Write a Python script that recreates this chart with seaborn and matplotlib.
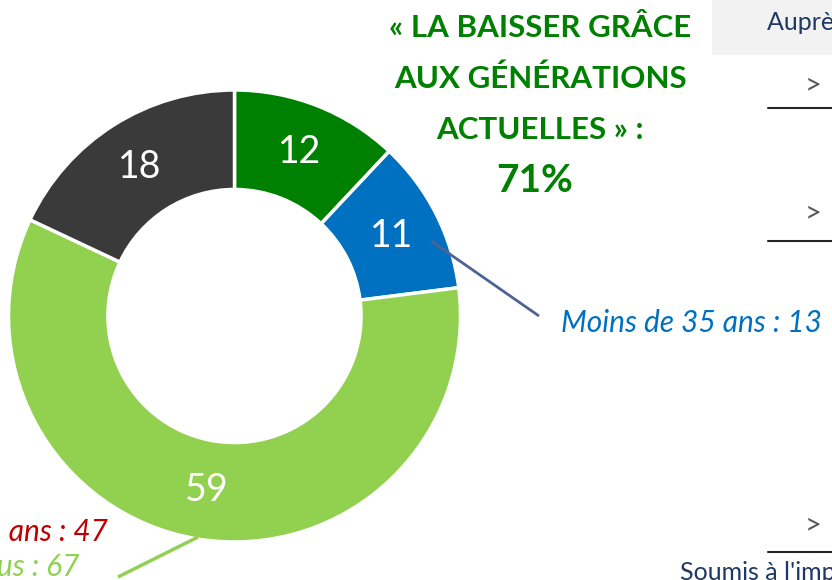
import matplotlib
matplotlib.use("Agg")
import matplotlib.pyplot as plt
import seaborn as sns
import numpy as np

# ---- data ----
categories = ["Baisser grâce aux générations actuelles", "Autre option", "Majorité", "Sans opinion"]
values = [12, 11, 59, 18]
colors = ["#008000", "#0070C0", "#92D050", "#3A3A3A"]
title_lines = ["« LA BAISSER GRÂCE", "AUX GÉNÉRATIONS", "ACTUELLES » :"]
title_value = "71%"
note_blue = "Moins de 35 ans : 13"
note_red = "Moins de 35 ans : 47"
note_green = "65 ans et plus : 67"
header_text = "Auprès de l'ensemble des Français"
footer_text = "Soumis à l'impôt sur le revenu"

sns.set_theme(style="white")
plt.rcParams["font.family"] = ["Lato", "DejaVu Sans"]

W, H = 832, 580
fig = plt.figure(figsize=(W / 100, H / 100), dpi=100)
ax = fig.add_axes([0, 0, 1, 1])

def Y(py):
    return H - py

cx, cy, R = 234.5, Y(316), 226
width_frac = 0.44
wedges, texts = ax.pie(
    values, colors=colors, startangle=90, counterclock=False,
    center=(cx, cy), radius=R, labels=[str(v) for v in values],
    labeldistance=1 - width_frac / 2,
    wedgeprops=dict(width=R * width_frac, edgecolor="white", linewidth=2.5),
    textprops=dict(color="white", fontsize=27, ha="center", va="center"),
    frame=True,
)
ax.set_xlim(0, W)
ax.set_ylim(0, H)
ax.set_aspect("auto")
ax.axis("off")

# title block
gcol = "#008000"
for i, line in enumerate(title_lines):
    ax.text(540, Y(28 + 51 * i), line, color=gcol, fontsize=22.5, fontweight="bold",
            ha="center", va="center")
ax.text(535, Y(180), title_value, color=gcol, fontsize=28, fontweight="bold",
        ha="center", va="center")

# leader lines
ax.plot([431, 539], [Y(241), Y(316)], color="#4F6392", lw=2, solid_capstyle="butt")
ax.plot([198, 118], [Y(537), Y(577)], color="#92D050", lw=2.5, solid_capstyle="butt")

# annotations
ax.text(561, Y(323), note_blue, color="#0070C0", fontsize=21.5, style="italic",
        ha="left", va="center")
ax.text(108, Y(532), note_red, color="#C00000", fontsize=21.5, style="italic",
        ha="right", va="center")
ax.text(79, Y(567), note_green, color="#92D050", fontsize=21.5, style="italic",
        ha="right", va="center")

# right-hand panel fragments
ax.add_patch(plt.Rectangle((712, Y(55)), W - 712, 55, color="#F2F2F2", lw=0))
ax.text(767, Y(22), header_text, color="#1F3864", fontsize=18, ha="left", va="center")
for gy, ly in [(85, 108), (213, 241), (525, 552)]:
    ax.text(813, Y(gy), ">", color="#595959", fontsize=21, ha="center", va="center")
    ax.plot([768, W], [Y(ly), Y(ly)], color="#262626", lw=1.5)
ax.text(680, Y(573), footer_text, color="#1F3864", fontsize=18, ha="left", va="center")

fig.savefig("out.png", dpi=100)
